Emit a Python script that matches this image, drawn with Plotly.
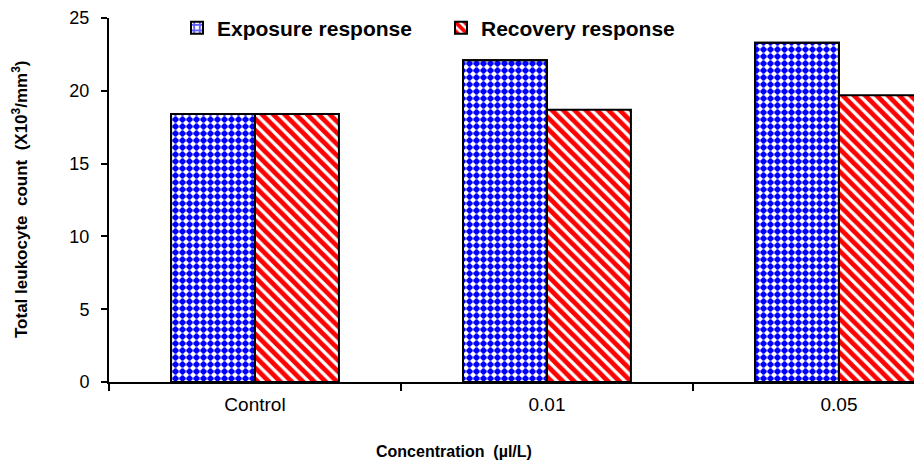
import plotly.graph_objects as go

categories = ["Control", "0.01", "0.05"]
exposure = [18.4, 22.1, 23.3]
recovery = [18.4, 18.7, 19.7]
y_ticks = [0, 5, 10, 15, 20, 25]

PL, PT, PR, PB = 109, 18, 914, 382   # plot area in window pixels
W, H = 914, 460

fig = go.Figure()
# exposure bars: light-blue gingham stripes on white ...
fig.add_trace(go.Bar(
    name="<b>Exposure response</b>", x=categories, y=exposure, offsetgroup="exp",
    marker=dict(color="#6060ff", line=dict(color="black", width=2),
                pattern=dict(shape="+", fgcolor="#6060ff", bgcolor="white", size=7,
                             solidity=0.55, fgopacity=1, fillmode="replace")),
))
# ... with dark-blue checks where the stripes cross
fig.add_trace(go.Bar(
    name="Exposure response", x=categories, y=exposure, offsetgroup="exp", showlegend=False,
    hoverinfo="skip",
    marker=dict(color="rgba(0,0,0,0)", line=dict(color="black", width=2),
                pattern=dict(shape=".", fgcolor="#0000ff", bgcolor="rgba(0,0,0,0)", size=7,
                             solidity=0.45, fgopacity=1, fillmode="replace")),
))
fig.add_trace(go.Bar(
    name="<b>Recovery response</b>", x=categories, y=recovery, offsetgroup="rec",
    marker=dict(color="red", line=dict(color="black", width=2),
                pattern=dict(shape="\\", fgcolor="#ff0000", bgcolor="white", size=8,
                             solidity=0.6, fgopacity=1, fillmode="replace")),
))

fig.update_layout(
    width=W, height=H,
    margin=dict(l=PL, r=0, t=PT, b=H - PB),
    plot_bgcolor="white", paper_bgcolor="white",
    barmode="group", bargap=0.425, bargroupgap=0,
    font=dict(family="Liberation Sans, Arial", color="black", size=18),
    legend=dict(orientation="h", x=(177 - PL) / (PR - PL), xanchor="left",
                y=1 - (28 - PT) / (PB - PT), yanchor="middle",
                font=dict(size=21, family="Liberation Sans, Arial"),
                bgcolor="rgba(0,0,0,0)", itemwidth=30,
                entrywidth=219, entrywidthmode="pixels"),
    showlegend=True,
)
fig.update_xaxes(
    range=[-0.5, 2.257], showline=True, linecolor="black", linewidth=2,
    ticks="outside", tickson="boundaries", ticklen=7, tickwidth=2, tickcolor="black",
    tickfont=dict(size=19), ticklabelstandoff=4, showgrid=False, zeroline=False,
)
fig.update_yaxes(
    range=[0, 25], tickvals=y_ticks, showline=True, linecolor="black", linewidth=2,
    ticks="outside", ticklen=6, tickwidth=2, tickcolor="black", showgrid=False, zeroline=False,
    tickfont=dict(size=18), ticklabelstandoff=8,
)
fig.add_annotation(
    text="<b>Total leukocyte  count  (X10<sup>3</sup>/mm<sup>3</sup>)</b>",
    xref="paper", yref="paper", x=(20 - PL) / (PR - PL), y=0.5,
    xanchor="center", yanchor="middle", textangle=-90,
    showarrow=False, font=dict(size=17),
)
fig.add_annotation(
    text="<b>Concentration  (µl/L)</b>", xref="paper", yref="paper",
    x=(454 - PL) / (PR - PL), y=-(451 - PB) / (PB - PT), xanchor="center", yanchor="middle",
    showarrow=False, font=dict(size=16),
)
fig.write_html(
    "out.html",
    config={"displayModeBar": False},
    post_script="document.body.style.margin='0';document.body.style.overflow='hidden';",
)
